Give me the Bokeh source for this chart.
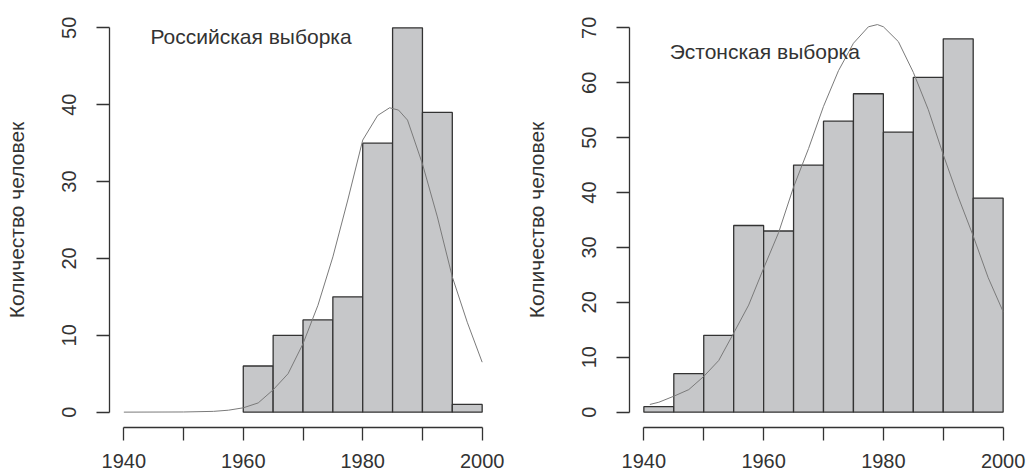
from bokeh.plotting import figure
from bokeh.layouts import row
from bokeh.models import FixedTicker, Label, Range1d
from bokeh.embed import file_html
from bokeh.resources import INLINE

# ---------------- data ----------------
bin_width = 5

ru_bin_left = [1960, 1965, 1970, 1975, 1980, 1985, 1990, 1995]
ru_counts = [6, 10, 12, 15, 35, 50, 39, 1]

ee_bin_left = [1940, 1945, 1950, 1955, 1960, 1965, 1970, 1975, 1980, 1985, 1990, 1995]
ee_counts = [1, 7, 14, 34, 33, 45, 53, 58, 51, 61, 68, 39]

ru_curve_year = [1940, 1950, 1955, 1957.5, 1960, 1962.5, 1965, 1967.5, 1970, 1972.5, 1975,
                 1977.5, 1980, 1982.5, 1984.5, 1986, 1987.5, 1990, 1992.5, 1995, 1997.5, 2000]
ru_curve_value = [0.0, 0.02, 0.1, 0.25, 0.56, 1.2, 2.9, 5.0, 8.9, 13.9, 20.2,
                  27.6, 35.4, 38.6, 39.6, 39.3, 38.0, 32.3, 25.4, 17.6, 11.7, 6.5]

ee_curve_year = [1941, 1942.5, 1945, 1947.5, 1950, 1952.5, 1955, 1957.5, 1960, 1962.5, 1965,
                 1967.5, 1970, 1972.5, 1975, 1977.5, 1979, 1980, 1982.5, 1985, 1987.5, 1990,
                 1992.5, 1995, 1997.5, 2000]
ee_curve_value = [1.4, 1.8, 2.9, 4.1, 6.5, 9.4, 14.4, 19.5, 26.2, 32.7, 41.0,
                  48.0, 55.7, 62.2, 67.2, 70.2, 70.6, 70.2, 67.5, 61.9, 55.1, 46.9,
                  39.2, 32.1, 24.5, 18.3]

x_ticks = [1940, 1950, 1960, 1970, 1980, 1990, 2000]
x_tick_labels = ["1940", "", "1960", "", "1980", "", "2000"]
ru_y_ticks = [0, 10, 20, 30, 40, 50]
ee_y_ticks = [0, 10, 20, 30, 40, 50, 60, 70]

y_title = "Количество человек"
ru_title = "Российская выборка"
ee_title = "Эстонская выборка"

FONT = "Liberation Sans"
TXT = "#333333"
AXC = "#333333"
BAR_FILL = "#c6c7c9"
CURVE = "#7a7a7a"


def panel(bin_left, counts, cy, cv, y_ticks, title, ymax, width,
          b_left, b_right, b_top, b_bottom, tx, ty):
    ypad = ymax * 0.04
    p = figure(width=width, height=474, output_backend="svg", toolbar_location=None,
               x_range=Range1d(1937.6, 2002.4), y_range=Range1d(-ypad, ymax + ypad),
               min_border_left=b_left, min_border_right=b_right,
               min_border_top=b_top, min_border_bottom=b_bottom)
    p.grid.visible = False
    p.outline_line_color = None
    p.background_fill_color = "white"
    p.border_fill_color = "white"

    rights = [b + bin_width for b in bin_left]
    p.quad(left=bin_left, right=rights, bottom=0, top=counts,
           fill_color=BAR_FILL, line_color=AXC, line_width=1.3)
    p.line(cy, cv, line_color=CURVE, line_width=1)

    for ax in (p.xaxis[0], p.yaxis[0]):
        ax.axis_line_color = AXC
        ax.axis_line_width = 1.3
        ax.major_tick_line_color = AXC
        ax.major_tick_line_width = 1.3
        ax.major_tick_out = 13
        ax.major_tick_in = 0
        ax.minor_tick_line_color = None
        ax.major_label_text_font = FONT
        ax.major_label_text_font_size = "20px"
        ax.major_label_text_color = TXT

    xa = p.xaxis[0]
    xa.ticker = FixedTicker(ticks=x_ticks)
    xa.major_label_overrides = {t: l for t, l in zip(x_ticks, x_tick_labels)}
    xa.bounds = (x_ticks[0], x_ticks[-1])
    xa.major_label_standoff = 13

    ya = p.yaxis[0]
    ya.ticker = FixedTicker(ticks=y_ticks)
    ya.bounds = (y_ticks[0], y_ticks[-1])
    ya.major_label_orientation = "vertical"
    ya.major_label_standoff = 20
    ya.axis_label = y_title
    ya.axis_label_text_font = FONT
    ya.axis_label_text_font_size = "21px"
    ya.axis_label_text_font_style = "normal"
    ya.axis_label_text_color = TXT
    ya.axis_label_standoff = 32

    p.add_layout(Label(x=tx, y=ty, text=title, text_font=FONT, text_font_size="21px",
                       text_color=TXT, text_align="center", text_baseline="middle"))
    return p


p1 = panel(ru_bin_left, ru_counts, ru_curve_year, ru_curve_value, ru_y_ticks, ru_title,
           50, 514, 109, 18, 12, 47, 1961.3, 48.9)
p2 = panel(ee_bin_left, ee_counts, ee_curve_year, ee_curve_value, ee_y_ticks, ee_title,
           70, 514, 115, 11, 0, 47, 1960.2, 65.7)

layout = row(p1, p2)
open("out.html", "w").write(file_html(layout, INLINE))
